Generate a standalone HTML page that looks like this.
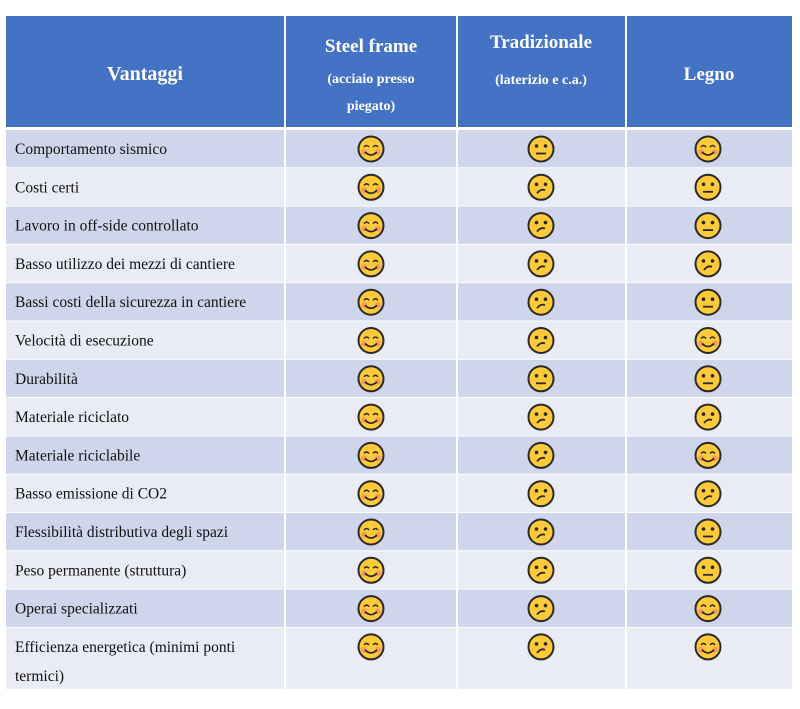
<!DOCTYPE html>
<html><head><meta charset="utf-8"><style>
html,body{margin:0;padding:0;background:#fff;}
svg{display:block;}
text{font-family:"Liberation Serif",serif;}
</style></head><body>
<svg width="800" height="709" viewBox="0 0 800 709" xmlns="http://www.w3.org/2000/svg">
<defs>
<g id="face"><circle r="12.5" fill="#FFCA3A" stroke="#2a2a2a" stroke-width="2"/></g>
<g id="H"><use href="#face"/><circle cx="-7" cy="3" r="3" fill="#f08a6a" opacity="0.7"/><circle cx="7" cy="3" r="3" fill="#f08a6a" opacity="0.7"/><path d="M-7,-2 q2.5,-3 5,0 M2,-2 q2.5,-3 5,0" fill="none" stroke="#2a2a2a" stroke-width="1.6"/><path d="M-6,3 q6,6 12,0" fill="none" stroke="#2a2a2a" stroke-width="1.8"/></g>
<g id="N"><use href="#face"/><circle cx="-4.5" cy="-3" r="1.8" fill="#2a2a2a"/><circle cx="4.5" cy="-3" r="1.8" fill="#2a2a2a"/><path d="M-5,4.5 h10" stroke="#2a2a2a" stroke-width="1.8"/></g>
<g id="S"><use href="#face"/><circle cx="-4.5" cy="-3" r="1.8" fill="#2a2a2a"/><circle cx="4.5" cy="-3" r="1.8" fill="#2a2a2a"/><path d="M-4,6 q4,-5 8,-3" fill="none" stroke="#2a2a2a" stroke-width="1.8"/></g>
</defs>
<rect x="6" y="16" width="786" height="112" fill="#4472C4"/>
<g fill="#fff" font-weight="bold" text-anchor="middle">
<text x="145" y="80" font-size="20">Vantaggi</text>
<text x="371" y="52" font-size="19">Steel frame</text>
<text x="371" y="83" font-size="14">(acciaio presso</text>
<text x="371" y="110" font-size="14">piegato)</text>
<text x="541" y="48" font-size="19">Tradizionale</text>
<text x="541" y="84" font-size="14">(laterizio e c.a.)</text>
<text x="709" y="80" font-size="19">Legno</text>
</g>
<g id="rows" font-size="15.5" fill="#111">
</g>
<script>
const rows=[["Comportamento sismico","HNH"],["Costi certi","HSN"],["Lavoro in off-side controllato","HSN"],["Basso utilizzo dei mezzi di cantiere","HSS"],["Bassi costi della sicurezza in cantiere","HSN"],["Velocità di esecuzione","HSH"],["Durabilità","HNN"],["Materiale riciclato","HSS"],["Materiale riciclabile","HSH"],["Basso emissione di CO2","HSS"],["Flessibilità distributiva degli spazi","HSN"],["Peso permanente (struttura)","HSN"],["Operai specializzati","HSH"],["Efficienza energetica (minimi ponti","HSH"]];
const g=document.getElementById('rows');const NS="http://www.w3.org/2000/svg";
let y=130;const xs=[371,541,708];
rows.forEach((r,i)=>{const h=i==13?62:38.3;
 const rc=document.createElementNS(NS,'rect');rc.setAttribute('x',6);rc.setAttribute('y',y);rc.setAttribute('width',786);rc.setAttribute('height',h);rc.setAttribute('fill',i%2==0?'#CFD5EA':'#E9EBF5');g.appendChild(rc);
 const t=document.createElementNS(NS,'text');t.setAttribute('x',15);t.setAttribute('y',y+24);t.textContent=r[0];g.appendChild(t);
 if(i==13){const t2=document.createElementNS(NS,'text');t2.setAttribute('x',15);t2.setAttribute('y',y+53);t2.textContent="termici)";g.appendChild(t2);}
 for(let k=0;k<3;k++){const u=document.createElementNS(NS,'use');u.setAttribute('href','#'+r[1][k]);u.setAttribute('transform',`translate(${xs[k]},${y+19})`);g.appendChild(u);}
 y+=h;
 const l=document.createElementNS(NS,'rect');l.setAttribute('x',6);l.setAttribute('y',y-1);l.setAttribute('width',786);l.setAttribute('height',2);l.setAttribute('fill','#fff');g.appendChild(l);
});
[285,457,626].forEach(x=>{const l=document.createElementNS(NS,'rect');l.setAttribute('x',x-1);l.setAttribute('y',16);l.setAttribute('width',2);l.setAttribute('height',y-16);l.setAttribute('fill','#fff');g.appendChild(l);});
const hl=document.createElementNS(NS,'rect');hl.setAttribute('x',6);hl.setAttribute('y',127);hl.setAttribute('width',786);hl.setAttribute('height',3);hl.setAttribute('fill','#fff');g.appendChild(hl);
</script>
</svg>
</body></html>
